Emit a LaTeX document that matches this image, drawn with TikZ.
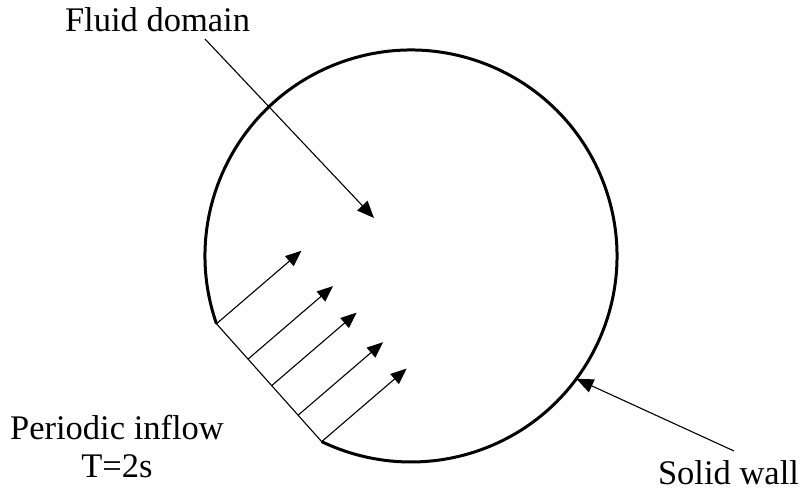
\documentclass[tikz,border=0pt]{standalone}
\usepackage{fontspec}
\setmainfont{Liberation Serif}
\usetikzlibrary{arrows.meta,positioning,calc}

\begin{document}
\begin{tikzpicture}[x=1pt, y=1pt,
  wall/.style={line width=3pt},
  pointer/.style={line width=1.1pt, -{Triangle[length=17pt, width=14pt]}},
  inflow/.style={line width=1.1pt, -{Triangle[length=16pt, width=13pt]}},
  label/.style={font=\fontsize{34.5}{37}\selectfont, inner sep=0pt, anchor=base, align=center}]
\useasboundingbox (0,0) rectangle (801,493);

% Domain
\coordinate (c) at (411,237);
\coordinate (inA) at ($(c)+(199.2:206)$);
\coordinate (inB) at ($(c)+(244.3:206)$);
\draw[wall] (inA) arc[start angle=199.2, end angle=-115.7, radius=206];
\draw[line width=1.1pt] (inA) -- (inB);

% Inflow arrows
\foreach \t [count=\i] in {0, 0.3, 0.525, 0.776, 1} {
  \coordinate (base\i) at ($(inA)!\t!(inB)$);
  \draw[inflow] (base\i) -- ++(85,73);
}

% Labels
\node[label] (fluid) at (157.5,461) {Fluid domain};
\node[label] (inlet) at (117,53) {Periodic inflow};
\node[label] (period) at (117,16) {T=2s};
\node[label] (solid) at (728.5,9) {Solid wall};

% Pointers
\coordinate (fluidtail) at (205,454);
\coordinate (fluidtip) at (374,275);
\coordinate (solidtail) at (734,42);
\coordinate (solidtip) at ($(c)+(-36.6:206)$);
\draw[pointer] (fluidtail) -- (fluidtip);
\draw[pointer] (solidtail) -- (solidtip);
\end{tikzpicture}
\end{document}
